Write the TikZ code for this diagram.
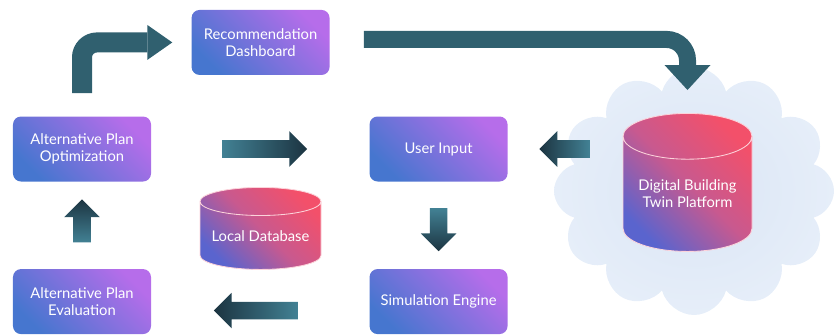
\documentclass[tikz,border=0pt]{standalone}
\usepackage{fontspec}
\setmainfont{Lato}
\usetikzlibrary{arrows.meta,positioning,calc,shapes.geometric,shapes.arrows,shapes.symbols}
\definecolor{boxviolet}{HTML}{B66DEA}
\definecolor{boxblue}{HTML}{4676CF}
\definecolor{dbred}{HTML}{F3506A}
\definecolor{dbpink}{HTML}{C8598F}
\definecolor{dbblue}{HTML}{5A64CE}
\definecolor{teallight}{HTML}{428194}
\definecolor{tealdark}{HTML}{1C3441}
\definecolor{tealmid}{HTML}{30606F}
\definecolor{cloudblue}{HTML}{DAE5F5}
\definecolor{cloudedge}{HTML}{E6EEF9}

\begin{document}
\begin{tikzpicture}[x=0.25mm, y=-0.25mm,
  every node/.style={font=\fontsize{10.5}{12.5}\selectfont, text=white, align=center},
  box/.style={rounded corners=2mm, minimum width=34.5mm, minimum height=16.25mm, bottom color=boxblue, top color=boxviolet, shading angle=-45},
  db/.style={cylinder, shape border rotate=90, anchor=north, inner xsep=13mm, inner ysep=1mm, draw=white!75!dbred, line width=0.6pt, bottom color=dbblue, top color=dbred, middle color=dbpink, shading angle=-45},
  blockarrow/.style={single arrow, inner sep=2.125mm, minimum width=8.75mm, single arrow head extend=2.25mm},
  bentarrow/.style={draw=tealmid}]
  \useasboundingbox (0,0) rectangle (839,335);

  % cloud platform
  \node[cloud, cloud puffs=12, aspect=1.1, minimum width=70mm, minimum height=62mm, inner color=cloudblue, outer color=cloudedge] (cloud) at (694,191) {};

  \node[box] (opt) at (82,149) {Alternative Plan\\Optimization};
  \node[box, right=54.5mm of opt] (user) {User Input};
  \node[box, below=21.75mm of opt] (eval) {Alternative Plan\\Evaluation};
  \node[box, below=21.75mm of user] (sim) {Simulation Engine};
  \node[box, above right=10.25mm and 10mm of opt] (dash) {Recommendation\\Dashboard};

  % databases
  \node[db, minimum width=30.25mm, minimum height=20.5mm, aspect=0.27] (local) at (260.5,187) {};
  \node (localtext) at ($(local.north)!0.59!(local.south)$) {Local Database};
  \node[db, minimum width=32.25mm, minimum height=34.5mm, aspect=0.44] (twin) at (687.5,113) {};
  \node (twintext) at ($(twin.north)!0.58!(twin.south)$) {Digital Building\\Twin Platform};

  % straight arrows
  \node[blockarrow, minimum height=21.25mm, left color=teallight, right color=tealdark] (a1) at ($(opt.east)!0.5!(user.west)$) {};
  \node[blockarrow, minimum height=12.5mm, shape border rotate=180, left color=tealdark, right color=teallight] (a2) at ([xshift=15.25mm]user.east) {};
  \node[blockarrow, minimum height=10.75mm, shape border rotate=270, top color=teallight, bottom color=tealdark] (a3) at ($(user.south)!0.5!(sim.north)$) {};
  \node[blockarrow, minimum height=21mm, shape border rotate=180, left color=tealdark, right color=teallight, yshift=-2.25mm] (a4) at ($(sim.west)!0.5!(eval.east)$) {};
  \node[blockarrow, minimum height=10.75mm, shape border rotate=90, top color=tealdark, bottom color=teallight] (a5) at ($(eval.north)!0.5!(opt.south)$) {};

  % bent arrows
  \draw[bentarrow, line width=5mm, rounded corners=3.75mm, -{Triangle[length=6.25mm, width=8.75mm, line width=0pt]}] ([yshift=5.75mm]opt.north) |- ([xshift=-4.75mm]dash.west);
  \draw[bentarrow, line width=4.25mm, rounded corners=5.25mm, -{Triangle[length=6.25mm, width=11.5mm, line width=0pt]}] ([xshift=8.5mm, yshift=0.75mm]dash.east) -| ([yshift=5.75mm]twin.north);
\end{tikzpicture}
\end{document}
